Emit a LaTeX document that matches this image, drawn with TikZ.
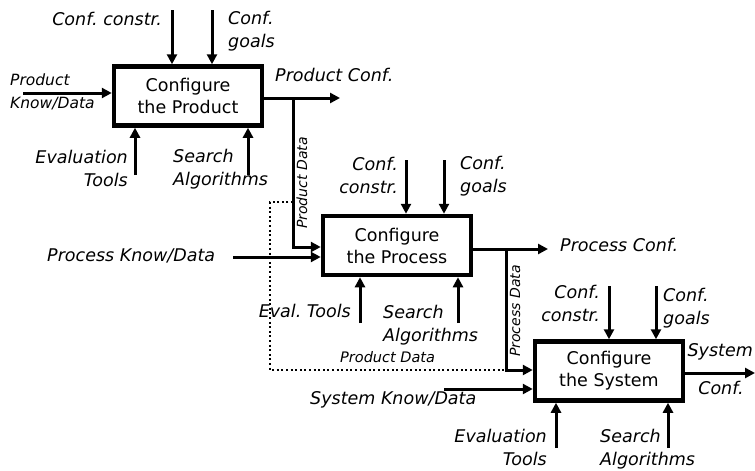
\documentclass[tikz,border=0pt]{standalone}
\usepackage{fontspec}
\setmainfont{DejaVu Sans}
\usetikzlibrary{arrows.meta}
\frenchspacing
\begin{document}
\begin{tikzpicture}[x=1pt,y=-1pt,
  proc/.style={draw,line width=4.5pt,minimum width=148pt,minimum height=59pt,
    align=center,inner sep=0pt,font=\fontsize{17.5}{22}\selectfont},
  flow/.style={line width=3pt,-{Triangle[length=10pt,width=10pt]}},
  dots/.style={line width=2pt,dash pattern=on 2pt off 2.6pt},
  lbl/.style={inner sep=0pt,font=\fontsize{17.5}{23}\itshape\selectfont},
  lblsm/.style={inner sep=0pt,font=\fontsize{15.5}{23}\itshape\selectfont},
  tiny/.style={inner sep=0pt,font=\fontsize{14}{15}\itshape\selectfont}]
\useasboundingbox (0,0) rectangle (755,471);

% activity boxes
\node[proc] (b1) at (188,96)  {Configure\\the Product};
\node[proc] (b2) at (397,245.5) {Configure\\the Process};
\node[proc] (b3) at (609,371) {Configure\\the System};

% ---------- Configure the Product ----------
\coordinate (c1a) at (172,10);
\coordinate (c1b) at (212,10);
\draw[flow] (c1a) -- (c1a |- b1.north);
\draw[flow] (c1b) -- (c1b |- b1.north);
\node[lbl,anchor=east] (l1a) at (162,19) {Conf. constr.};
\node[lbl,anchor=west,align=left] (l1b) at (228,31) {Conf.\\goals};

\coordinate (i1) at (23,93);
\draw[flow] (i1) -- (i1 -| b1.west);
\node[lblsm,anchor=west,align=left] (l1i) at (10,92) {Product\\Know/Data};

\coordinate (m1a) at (135,175);
\coordinate (m1b) at (248,175);
\draw[flow] (m1a) -- (m1a |- b1.south);
\draw[flow] (m1b) -- (m1b |- b1.south);
\node[lbl,anchor=east,align=right] (l1c) at (128,168) {Evaluation\\Tools};
\node[lbl,anchor=west,align=left] (l1d) at (173,169) {Search\\Algorithms};

\coordinate (o1) at (340,98);
\coordinate (s1) at (293,98);
\draw[flow] (b1.east |- o1) -- (o1);
\node[lbl,anchor=west] (l1o) at (275,75) {Product Conf.};

% product data to the process
\coordinate (k1) at (293,247);
\draw[flow] (s1) -- (k1) -- (k1 -| b2.west);
\node[tiny,rotate=90] (l1k) at (302,183) {Product Data};

% ---------- Configure the Process ----------
\coordinate (c2a) at (406,160);
\coordinate (c2b) at (444,160);
\draw[flow] (c2a) -- (c2a |- b2.north);
\draw[flow] (c2b) -- (c2b |- b2.north);
\node[lbl,anchor=east,align=right] (l2a) at (398,175) {Conf.\\constr.};
\node[lbl,anchor=west,align=left] (l2b) at (460,176) {Conf.\\goals};

\coordinate (i2) at (233,257);
\draw[flow] (i2) -- (i2 -| b2.west);
\node[lbl,anchor=west] (l2i) at (47,256) {Process Know/Data};

\coordinate (m2a) at (360,323);
\coordinate (m2b) at (458,323);
\draw[flow] (m2a) -- (m2a |- b2.south);
\draw[flow] (m2b) -- (m2b |- b2.south);
\node[lbl,anchor=east] (l2c) at (351,311) {Eval. Tools};
\node[lbl,anchor=west,align=left] (l2d) at (383,325) {Search\\Algorithms};

\coordinate (o2) at (548,249);
\coordinate (s2) at (506,249);
\draw[flow] (b2.east |- o2) -- (o2);
\node[lbl,anchor=west] (l2o) at (560,245) {Process Conf.};

% process data to the system
\coordinate (k2) at (506,370);
\draw[flow] (s2) -- (k2) -- (k2 -| b3.west);
\node[tiny,rotate=90] (l2k) at (515,311) {Process Data};

% product data passed on to the system (dotted)
\coordinate (d1) at (293,202);
\coordinate (d2) at (270,202);
\coordinate (d3) at (270,370);
\draw[dots] (d1) -- (d2) -- (d3) -- (k2);
\node[tiny,anchor=west,font=\fontsize{14.5}{15}\itshape\selectfont] (l3p) at (340,357) {Product Data};

% ---------- Configure the System ----------
\coordinate (c3a) at (609,286);
\coordinate (c3b) at (656,286);
\draw[flow] (c3a) -- (c3a |- b3.north);
\draw[flow] (c3b) -- (c3b |- b3.north);
\node[lbl,anchor=east,align=right] (l3a) at (600,303) {Conf.\\constr.};
\node[lbl,anchor=west,align=left] (l3b) at (663,308) {Conf.\\goals};

\coordinate (i3) at (444,389);
\draw[flow] (i3) -- (i3 -| b3.west);
\node[lbl,anchor=west] (l3i) at (310,400) {System Know/Data};

\coordinate (m3a) at (556,448);
\coordinate (m3b) at (668,448);
\draw[flow] (m3a) -- (m3a |- b3.south);
\draw[flow] (m3b) -- (m3b |- b3.south);
\node[lbl,anchor=east,align=right] (l3c) at (547,447) {Evaluation\\Tools};
\node[lbl,anchor=west,align=left] (l3d) at (600,449) {Search\\Algorithms};

\coordinate (o3) at (755,373);
\draw[flow] (b3.east |- o3) -- (o3);
\node[lbl,anchor=east] (l3o) at (753,352) {System};
\node[lbl] (l3p2) at (721,388) {Conf.};
\end{tikzpicture}
\end{document}
